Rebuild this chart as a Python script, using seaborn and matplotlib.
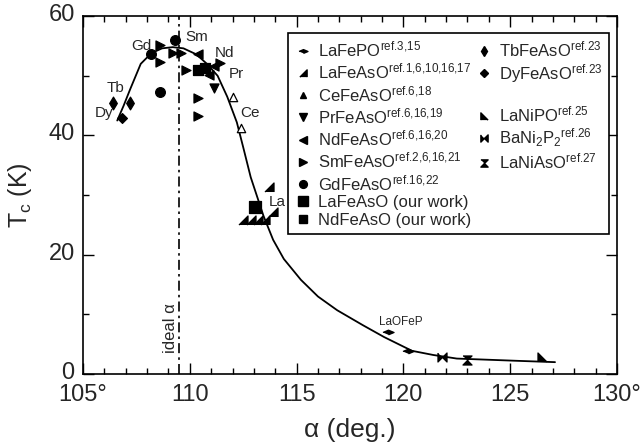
import matplotlib
matplotlib.use("Agg")
import matplotlib.pyplot as plt
from matplotlib.lines import Line2D
from matplotlib.ticker import MultipleLocator
from matplotlib.transforms import ScaledTranslation
import pandas as pd
import seaborn as sns

# ---------------- data ----------------
lafepo_x = [119.3, 120.2]
lafepo_y = [7.0, 3.9]
lafeaso_ref_x = [113.7, 112.5, 112.85, 113.2, 113.5, 113.9]
lafeaso_ref_y = [31.3, 25.8, 25.8, 25.8, 25.8, 27.2]
cefeaso_x = [112.0, 112.4]
cefeaso_y = [46.5, 41.3]
prfeaso_x = [111.15]
prfeaso_y = [48.0]
ndfeaso_x = [110.4, 110.9, 111.15]
ndfeaso_y = [53.7, 50.2, 51.6]
smfeaso_x = [108.6, 108.6, 109.2, 109.6, 109.8, 110.4, 110.4, 111.4]
smfeaso_y = [55.2, 52.3, 53.8, 53.8, 51.0, 46.2, 43.2, 52.2]
gdfeaso_x = [108.2, 108.6, 109.3]
gdfeaso_y = [53.7, 47.2, 56.0]
lafeaso_our_x = [113.03]
lafeaso_our_y = [28.0]
ndfeaso_our_x = [110.4, 110.7]
ndfeaso_our_y = [51.0, 51.3]
tbfeaso_x = [106.4, 107.2]
tbfeaso_y = [45.5, 45.5]
dyfeaso_x = [106.8]
dyfeaso_y = [43.0]
lanipo_x = [126.5]
lanipo_y = [2.8]
bani2p2_x = [121.8]
bani2p2_y = [2.8]
laniaso_x = [123.0]
laniaso_y = [2.3]

curve_x = [106.6, 106.9, 107.2, 107.7, 108.2, 108.7, 109.2, 109.7, 110.3,
           110.8, 111.3, 111.75, 112.2, 112.5, 112.85, 113.45, 113.9, 114.4,
           115.2, 116.0, 116.9, 118.1, 119.1, 120.4, 121.4, 122.5,
           124.0, 125.5, 127.1]
curve_y = [42.5, 45.0, 47.7, 52.0, 53.8, 54.6, 54.8, 54.6, 53.6,
           52.0, 50.0, 46.5, 42.2, 38.0, 33.0, 26.5, 22.5, 19.3,
           15.8, 13.0, 10.7, 8.2, 6.2, 3.9, 3.2, 2.6,
           2.4, 2.2, 2.0]
ideal_alpha = 109.47

x_ticks = [105, 110, 115, 120, 125, 130]
x_tick_labels = ["105°", "110", "115", "120", "125", "130°"]
y_ticks = [0, 20, 40, 60]

labels = [
    "LaFePO$^{\\text{ref.3,15}}$",
    "LaFeAsO$^{\\text{ref.1,6,10,16,17}}$",
    "CeFeAsO$^{\\text{ref.6,18}}$",
    "PrFeAsO$^{\\text{ref.6,16,19}}$",
    "NdFeAsO$^{\\text{ref.6,16,20}}$",
    "SmFeAsO$^{\\text{ref.2,6,16,21}}$",
    "GdFeAsO$^{\\text{ref.16,22}}$",
    "LaFeAsO (our work)",
    "NdFeAsO (our work)",
    "TbFeAsO$^{\\text{ref.23}}$",
    "DyFeAsO$^{\\text{ref.23}}$",
    "LaNiPO$^{\\text{ref.25}}$",
    "BaNi$_2$P$_2$$^{\\text{ref.26}}$",
    "LaNiAsO$^{\\text{ref.27}}$",
]

# ---------------- style ----------------
sns.set_style("ticks")
plt.rcParams["font.family"] = ["Liberation Sans", "DejaVu Sans"]
plt.rcParams["mathtext.fontset"] = "custom"
plt.rcParams["mathtext.rm"] = "Liberation Sans"
plt.rcParams["mathtext.it"] = "Liberation Sans:italic"
plt.rcParams["axes.linewidth"] = 1.2

HDIAMOND = [(-1, 0), (0, 0.42), (1, 0), (0, -0.42)]
TRI_LR = [(1, -1), (1, 1), (-1, -1)]
TRI_LL = [(-1, -1), (-1, 1), (1, -1)]
BOWTIE = [(-1, 1), (-1, -1), (0, 0), (1, -1), (1, 1), (0, 0)]
HOURGLASS = [(-1, 1), (1, 1), (0, 0), (1, -1), (-1, -1), (0, 0)]

series = [
    (labels[0], lafepo_x, lafepo_y, HDIAMOND, 8, "black"),
    (labels[1], lafeaso_ref_x, lafeaso_ref_y, TRI_LR, 6.5, "black"),
    (labels[2], cefeaso_x, cefeaso_y, "^", 6, "white"),
    (labels[3], prfeaso_x, prfeaso_y, "v", 6.5, "black"),
    (labels[4], ndfeaso_x, ndfeaso_y, "<", 6.5, "black"),
    (labels[5], smfeaso_x, smfeaso_y, ">", 6.5, "black"),
    (labels[6], gdfeaso_x, gdfeaso_y, "o", 7, "black"),
    (labels[7], lafeaso_our_x, lafeaso_our_y, "s", 9, "black"),
    (labels[8], ndfeaso_our_x, ndfeaso_our_y, "s", 7.5, "black"),
    (labels[9], tbfeaso_x, tbfeaso_y, "d", 6.5, "black"),
    (labels[10], dyfeaso_x, dyfeaso_y, "D", 5, "black"),
    (labels[11], lanipo_x, lanipo_y, TRI_LL, 6.5, "black"),
    (labels[12], bani2p2_x, bani2p2_y, BOWTIE, 6.5, "black"),
    (labels[13], laniaso_x, laniaso_y, HOURGLASS, 6.5, "black"),
]

fig = plt.figure(figsize=(6.44, 4.48), dpi=100)
ax = fig.add_axes([0.129, 0.165, 0.829, 0.799])

# guide curve
curve_df = pd.DataFrame({"alpha": curve_x, "tc": curve_y})
sns.lineplot(data=curve_df, x="alpha", y="tc", color="black", lw=1.3,
             sort=False, ax=ax, zorder=2)

# ideal tetrahedral angle
ax.axvline(ideal_alpha, color="black", lw=1.2, ls=(0, (6, 2.5, 1.5, 2.5)), zorder=1)

handles = []
for lab, xs, ys, mk, ms, fc in series:
    df = pd.DataFrame({"alpha": xs, "tc": ys})
    sns.scatterplot(data=df, x="alpha", y="tc", marker=mk, s=ms ** 2,
                    color=fc, edgecolor="black", linewidth=0.9, ax=ax,
                    zorder=3, legend=False)
    handles.append(Line2D([], [], ls="none", marker=mk, markersize=ms * 0.8,
                          markerfacecolor="black", markeredgecolor="black",
                          label=lab))

blank = lambda: Line2D([], [], ls="none", marker=None, label=" ")
col1 = handles[:9]
col2 = [handles[9], handles[10], blank(), handles[11], handles[12],
        handles[13], blank(), blank(), blank()]
leg = ax.legend(handles=col1 + col2, ncol=2, loc="upper left",
                bbox_to_anchor=(0.384, 0.952), fontsize=12, frameon=True,
                fancybox=False, edgecolor="black", framealpha=1,
                handlelength=1.0, handletextpad=0.4, columnspacing=0.3,
                labelspacing=0.14, borderpad=0.38, borderaxespad=0)
leg.get_frame().set_linewidth(1.2)

# annotations
ann = dict(fontsize=11, ha="center", va="center")
ax.text(107.75, 55.0, "Gd", **ann)
ax.text(110.3, 56.5, "Sm", **ann)
ax.text(111.6, 53.8, "Nd", **ann)
ax.text(112.2, 50.3, "Pr", **ann)
ax.text(106.5, 48.0, "Tb", **ann)
ax.text(106.0, 43.7, "Dy", **ann)
ax.text(112.8, 43.8, "Ce", **ann)
ax.text(114.1, 28.8, "La", **ann)
ax.text(119.9, 8.8, "LaOFeP", fontsize=8.5, ha="center", va="center")
ax.text(109.08, 7.7, "ideal α", fontsize=12, rotation=90, ha="center", va="center")

ax.set_xlim(105, 130)
ax.set_ylim(0, 60)
ax.set_xticks(x_ticks)
ax.set_xticklabels(x_tick_labels)
ax.set_yticks(y_ticks)
ax.xaxis.set_minor_locator(MultipleLocator(1))
ax.yaxis.set_minor_locator(MultipleLocator(10))
ax.tick_params(which="both", direction="in", top=True, right=True,
               labelsize=17, width=1.0, color="black")
ax.tick_params(which="major", length=8)
ax.tick_params(axis="x", which="major", pad=7)
ax.tick_params(axis="y", which="major", pad=6)
ax.tick_params(which="minor", length=4)
for sp in ax.spines.values():
    sp.set_visible(True)
    sp.set_color("black")
    sp.set_linewidth(1.2)

# nudge y tick labels slightly upward, as in the reference
shift = ScaledTranslation(0, 2.5 / 72, fig.dpi_scale_trans)
for lbl in ax.get_yticklabels():
    lbl.set_transform(lbl.get_transform() + shift)

ax.set_xlabel("α (deg.)", fontsize=19, labelpad=9)
ax.set_ylabel("T$_\\mathrm{c}$ (K)", fontsize=18, labelpad=10)

fig.savefig("out.png", dpi=100, facecolor="white")
